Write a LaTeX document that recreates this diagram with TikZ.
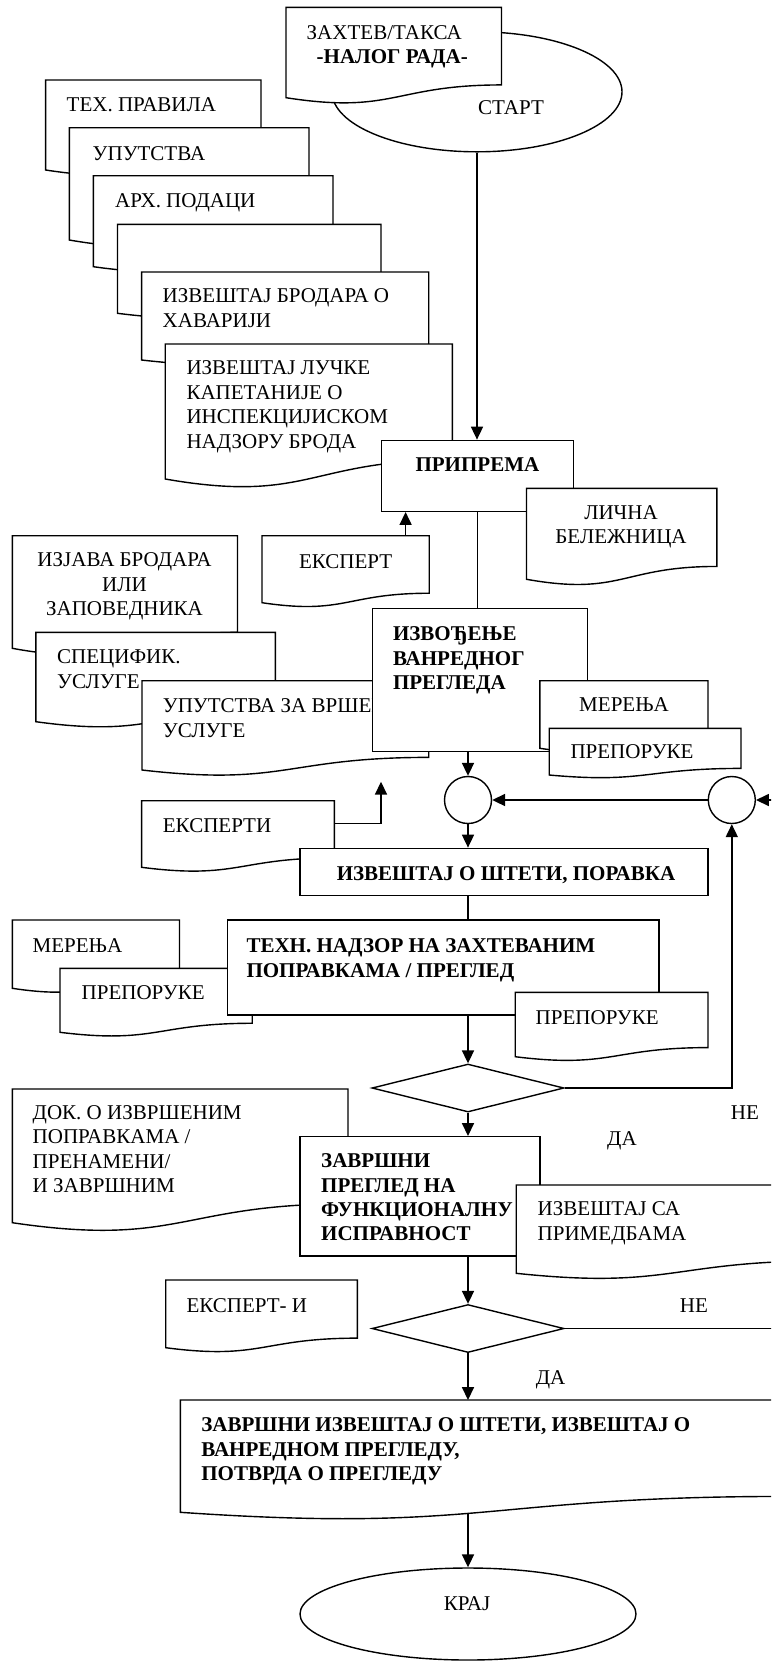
\documentclass[tikz,border=0pt]{standalone}
\usepackage{fontspec}
\setmainfont{Liberation Serif}
\usetikzlibrary{arrows.meta,shapes.geometric}

% one drawing unit = one pixel of the layout grid
\newcommand\pxu{0.571pt}
% fixed height for the first line of every text block
\newcommand\tst{\rule{0pt}{11pt}}

% document symbol: #1 name, #2 left, #3 top, #4 right, #5 lower end of the left edge
\newcommand\docshape[5]{%
  \pgfmathsetmacro\docH{(#5-#3)/0.934}%
  \pgfmathsetmacro\docMid{(#2+#4)/2}%
  \pgfmathsetmacro\docR{#3+0.802*\docH}%
  \pgfmathsetmacro\docD{#3+1.107*\docH}%
  \filldraw[docline] (#2,#3) coordinate (#1-nw) -- (#4,#3) coordinate (#1-ne)
    -- (#4,\docR) .. controls (\docMid,\docR) and (\docMid,\docD) .. (#2,#5) -- cycle;
}

\tikzset{
  docline/.style={draw=black, fill=white, line width=0.8pt},
  box/.style={draw, fill=white, rectangle, inner sep=0pt, line width=0.8pt},
  txt/.style={inner sep=0pt, anchor=north west, align=left, font=\fontsize{12}{13.9}\selectfont},
  btxt/.style={txt, font=\fontsize{12}{13.9}\selectfont\bfseries},
  ctxt/.style={txt, anchor=north, align=center},
  bctxt/.style={btxt, anchor=north, align=center},
  decision/.style={diamond, draw, fill=white, inner sep=0pt, minimum width=192*\pxu, minimum height=48*\pxu},
  joint/.style={circle, draw, fill=white, inner sep=0pt, minimum size=47*\pxu},
  terminal/.style={ellipse, draw, fill=white, inner sep=0pt},
  arr/.style={-{Triangle[length=7.4pt,width=6.9pt]}},
}

\begin{document}
\begin{tikzpicture}[x=0.571pt, y=-0.571pt, line width=0.8pt]
\useasboundingbox (0,0) rectangle (771,1661);
\fill[white] (0,0) rectangle (771,1661);
\clip (0,0) rectangle (771,1661);

% ---------- start ----------
\node[terminal, minimum width=290*\pxu, minimum height=120*\pxu] (start) at (477,91.8) {};
\node[ctxt] (start-t) at (511,94.7) {\tst СТАРТ};
\docshape{zahtev}{286}{7.3}{501.5}{97.7}
\node[txt] (zahtev-t) at (306,19.4) {\tst ЗАХТЕВ/ТАКСА\\\hspace*{5.7pt}\textbf{-НАЛОГ РАДА-}};

% ---------- stack of input documents ----------
\docshape{tehprav}{45.7}{80}{261}{170}
\node[txt] (tehprav-t) at (66,91.7) {\tst ТЕХ. ПРАВИЛА};
\docshape{uputstva}{69.3}{127.7}{309}{240}
\node[txt] (uputstva-t) at (92,140.4) {\tst УПУТСТВА};
\docshape{arh}{93.4}{175.7}{333}{266.7}
\node[txt] (arh-t) at (114.5,187.7) {\tst АРХ. ПОДАЦИ};
\docshape{blank}{117.5}{224.3}{381}{313.3}
\docshape{brodar}{141.6}{272}{428.7}{360}
\node[txt] (brodar-t) at (162,282.7) {\tst ИЗВЕШТАЈ БРОДАРА О\\ХАВАРИЈИ};
\docshape{luka}{165.2}{344}{452.3}{479}
\node[txt] (luka-t) at (185.8,355) {\tst ИЗВЕШТАЈ ЛУЧКЕ\\КАПЕТАНИЈЕ О\\ИНСПЕКЦИЈИСКОМ\\НАДЗОРУ БРОДА};

% ---------- preparation ----------
\node[box, minimum width=191.8*\pxu, minimum height=71*\pxu] (pripr) at (477.4,475.8) {};
\node[bctxt] (pripr-t) at (477.4,451.7) {\tst ПРИПРЕМА};
\draw[arr] (start.south) -- (start.south |- pripr.north);
\docshape{licna}{526.5}{488.3}{716.8}{579.3}
\node[ctxt] (licna-t) at (621,499.4) {\tst ЛИЧНА\\БЕЛЕЖНИЦА};

\docshape{ekspert}{262}{535.7}{429.2}{602.7}
\node[ctxt] (ekspert-t) at (345.6,548.4) {\tst ЕКСПЕРТ};
\coordinate (ekspert-up) at (405.6,535.7);
\draw[arr] (ekspert-up) -- (ekspert-up |- pripr.south);

% ---------- extraordinary survey ----------
\docshape{izjava}{12.3}{535.7}{237.5}{648.3}
\node[ctxt] (izjava-t) at (124.5,547) {\tst ИЗЈАВА БРОДАРА\\ИЛИ\\ЗАПОВЕДНИКА};
\docshape{specifik}{35.9}{632.3}{275.3}{721.7}
\node[txt] (specifik-t) at (56.5,643.7) {\tst СПЕЦИФИК.\\УСЛУГЕ};
\docshape{uputvrs}{142}{680.7}{428.7}{770}
\node[txt] (uputvrs-t) at (162.2,693) {\tst УПУТСТВА ЗА ВРШЕЊЕ\\УСЛУГЕ};
\node[box, minimum width=215.3*\pxu, minimum height=143.4*\pxu] (izvo) at (479.85,680) {};
\draw (pripr.south) -- (pripr.south |- izvo.north);
\node[btxt] (izvo-t) at (392.3,621) {\tst ИЗВОЂЕЊЕ\\ВАНРЕДНОГ\\ПРЕГЛЕДА};
\docshape{merenja1}{539.8}{680.7}{708}{748.3}
\node[ctxt] (merenja1-t) at (624,692) {\tst МЕРЕЊА};
\docshape{prep1}{549.2}{728.3}{741}{775}
\node[ctxt] (prep1-t) at (632,738.4) {\tst ПРЕПОРУКЕ};

% ---------- joints ----------
\node[joint] (c1) at (468,800) {};
\node[joint] (c2) at (731.8,800) {};
\draw[arr] (c1.north |- izvo.south) -- (c1.north);
\draw[arr] (c2.west) -- (c1.east);

% ---------- damage report ----------
\docshape{eksperti}{141.6}{800.7}{334.3}{867.3}
\node[txt] (eksperti-t) at (162.2,812.7) {\tst ЕКСПЕРТИ};
\node[box, minimum width=408*\pxu, minimum height=47.4*\pxu] (steta) at (504,872) {};
\node[bctxt] (steta-t) at (506,861) {\tst ИЗВЕШТАЈ О ШТЕТИ, ПОРАВКА};
\coordinate (eksperti-out) at (334.3,823.3);
\coordinate (uputvrs-in) at (381,781.7);
\draw[arr] (eksperti-out) -| (uputvrs-in);
\draw[arr] (c1.south) -- (c1.south |- steta.north);

% ---------- supervision of repairs ----------
\docshape{merenja2}{12.3}{920}{179.5}{988.3}
\node[txt] (merenja2-t) at (32,932.7) {\tst МЕРЕЊА};
\docshape{prep2}{60}{968.3}{252.2}{1032.3}
\node[txt] (prep2-t) at (81,979.4) {\tst ПРЕПОРУКЕ};
\node[box, minimum width=431.2*\pxu, minimum height=95*\pxu] (tehn) at (443.2,967.5) {};
\node[btxt] (tehn-t) at (245.8,932.7) {\tst ТЕХН. НАДЗОР НА ЗАХТЕВАНИМ\\ПОПРАВКАМА / ПРЕГЛЕД};
\docshape{prep3}{515.2}{992.3}{708}{1056.7}
\node[txt] (prep3-t) at (535,1004.4) {\tst ПРЕПОРУКЕ};
\draw (c1.south |- steta.south) -- (c1.south |- tehn.north);

\node[decision] (d1) at (468,1088) {};
\draw[arr] (c1.south |- tehn.south) -- (d1.north);
\draw[arr] (d1.east) -| (c2.south);
\node[ctxt] (d1-no) at (745,1099.4) {\tst НЕ};
\node[ctxt] (d1-yes) at (622,1126) {\tst ДА};

% ---------- final survey ----------
\docshape{dok}{12.3}{1089}{348}{1222.7}
\node[txt] (dok-t) at (32,1099.4) {\tst ДОК. О ИЗВРШЕНИМ\\ПОПРАВКАМА /\\ПРЕНАМЕНИ/\\И ЗАВРШНИМ};
\node[box, minimum width=239.8*\pxu, minimum height=119.3*\pxu] (zavr) at (419.9,1196.35) {};
\node[btxt] (zavr-t) at (320.5,1147.7) {\tst ЗАВРШНИ\\ПРЕГЛЕД НА\\ФУНКЦИОНАЛНУ\\ИСПРАВНОСТ};
\draw[arr] (d1.south) -- (d1.south |- zavr.north);
\docshape{izvsa}{516.2}{1185}{826}{1273.3}
\node[txt] (izvsa-t) at (537,1196) {\tst ИЗВЕШТАЈ СА\\ПРИМЕДБАМА};

\docshape{eksperti2}{165.7}{1280}{357.4}{1347.7}
\node[txt] (eksperti2-t) at (185.8,1292.7) {\tst ЕКСПЕРТ- И};
\node[decision] (d2) at (468,1328.5) {};
\draw[arr] (d2.north |- zavr.south) -- (d2.north);
\coordinate (loop-right) at (800,1000);
\draw[arr] (d2.east) -| (loop-right) |- (c2.east);
\node[ctxt] (d2-no) at (694,1292.7) {\tst НЕ};
\node[ctxt] (d2-yes) at (550.6,1364.4) {\tst ДА};

% ---------- closing ----------
\docshape{final}{180.4}{1400}{785}{1512.3}
\node[btxt] (final-t) at (200.6,1411.7) {\tst ЗАВРШНИ ИЗВЕШТАЈ О ШТЕТИ, ИЗВЕШТАЈ О\\ВАНРЕДНОМ ПРЕГЛЕДУ,\\ПОТВРДА О ПРЕГЛЕДУ};
\coordinate (final-in) at (468,1400);
\coordinate (final-out) at (468,1514);
\draw[arr] (d2.south) -- (final-in);
\node[terminal, minimum width=336*\pxu, minimum height=92*\pxu] (kraj) at (468,1614) {};
\node[ctxt] (kraj-t) at (467,1591) {\tst КРАЈ};
\draw[arr] (final-out) -- (kraj.north);
\end{tikzpicture}
\end{document}
